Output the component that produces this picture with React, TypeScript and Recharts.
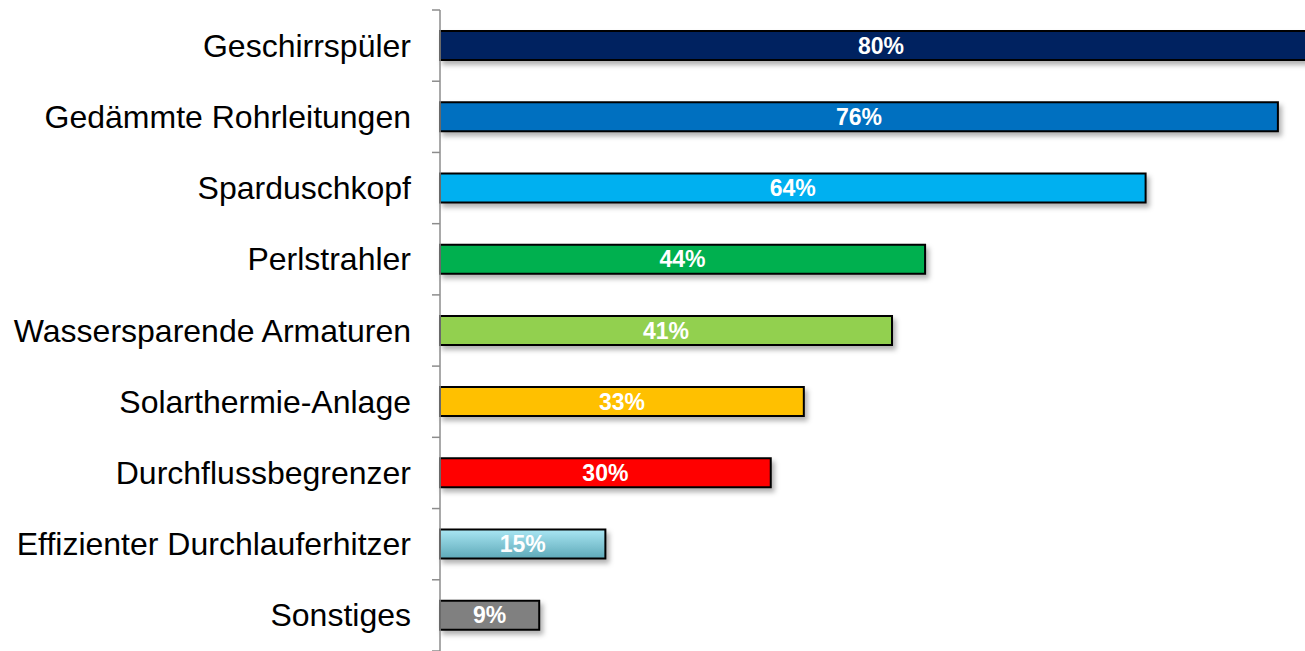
import React from 'react';
import { BarChart, Bar, XAxis, YAxis, Cell, LabelList } from 'recharts';

const categories = [
  'Geschirrspüler',
  'Gedämmte Rohrleitungen',
  'Sparduschkopf',
  'Perlstrahler',
  'Wassersparende Armaturen',
  'Solarthermie-Anlage',
  'Durchflussbegrenzer',
  'Effizienter Durchlauferhitzer',
  'Sonstiges',
];
const values = [80, 76, 64, 44, 41, 33, 30, 15, 9];
const colors = ['#002060', '#0070C0', '#00B0F0', '#00B050', '#92D050', '#FFC000', '#FF0000', 'url(#cyanGrad)', '#808080'];

const data = categories.map((name, i) => ({ name, value: values[i] }));

const CHART_H = 651;
const TOP = 10;
const HALF_BAND = (CHART_H - TOP) / categories.length / 2;

// tick marks sit between the categories, like in the original
const CategoryTick = (props: any) => {
  const { x, y, payload, index } = props;
  const axisX = x + 8;
  const half = payload && payload.offset ? payload.offset : HALF_BAND;
  return (
    <g>
      <line x1={axisX - 8} x2={axisX} y1={y - half} y2={y - half} stroke="#8c8c8c" strokeWidth={1.5} />
      {index === categories.length - 1 && (
        <line x1={axisX - 8} x2={axisX} y1={y + half} y2={y + half} stroke="#8c8c8c" strokeWidth={1.5} />
      )}
      <text
        x={axisX - 29}
        y={y}
        dy={11}
        textAnchor="end"
        fontFamily="'Liberation Sans', Arial, sans-serif"
        fontSize={32}
        fill="#000"
      >
        {payload.value}
      </text>
    </g>
  );
};

const App: React.FC = () => {
  return (
    <div style={{ position: 'absolute', left: 0, top: 0, width: 1305, height: 651, overflow: 'hidden', background: '#fff' }}>
      <BarChart
        width={1322}
        height={CHART_H}
        data={data}
        layout="vertical"
        margin={{ top: TOP, right: 0, left: 0, bottom: 0 }}
        barCategoryGap="0%"
      >
        <defs>
          <linearGradient id="cyanGrad" x1="0" y1="0" x2="0" y2="1">
            <stop offset="0%" stopColor="#a9e6f3" />
            <stop offset="100%" stopColor="#5ea9b8" />
          </linearGradient>
          <filter id="shadow" x="-5%" y="-30%" width="115%" height="180%">
            <feDropShadow dx="3" dy="4" stdDeviation="2.5" floodColor="#000" floodOpacity="0.3" />
          </filter>
        </defs>
        <XAxis type="number" domain={[0, 80]} hide />
        <YAxis
          type="category"
          dataKey="name"
          width={440}
          axisLine={{ stroke: '#8c8c8c', strokeWidth: 1.5 }}
          tickLine={false}
          tick={<CategoryTick />}
          interval={0}
        />
        <Bar
          dataKey="value"
          barSize={29}
          stroke="#000"
          strokeWidth={2}
          filter="url(#shadow)"
          isAnimationActive={false}
        >
          {data.map((d, i) => (
            <Cell key={d.name} fill={colors[i]} />
          ))}
          <LabelList
            dataKey="value"
            position="center"
            formatter={(v: any) => `${v}%`}
            fill="#fff"
            fontFamily="'Liberation Sans', Arial, sans-serif"
            fontWeight="bold"
            fontSize={23}
          />
        </Bar>
      </BarChart>
    </div>
  );
};

export default App;
